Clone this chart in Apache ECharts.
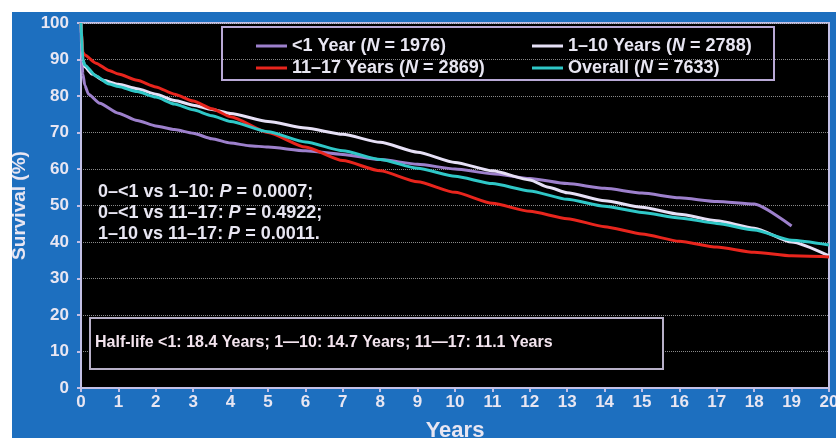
<!DOCTYPE html>
<html>
<head>
<meta charset="utf-8">
<script src="https://cdn.jsdelivr.net/npm/echarts@6/dist/echarts.min.js"></script>
<style>
html,body{margin:0;padding:0;background:#fff;}
#c{width:836px;height:438px;}
</style>
</head>
<body>
<div id="c"></div>
<script>
// ---- data ----
var seriesNames = ['<1 Year', '1–10 Years', '11–17 Years', 'Overall'];
var seriesN = ['1976', '2788', '2869', '7633'];

var lt1Years = [0, 0.02, 0.05, 0.1, 0.2, 0.5, 1, 1.5, 2, 2.5, 3, 3.5, 4, 4.5, 5, 6, 7, 8, 9, 10, 11, 12, 13, 14, 15, 16, 17, 18, 19];
var lt1Surv  = [100, 90, 86, 83, 80.5, 78, 75.3, 73.3, 71.8, 70.8, 69.8, 68.3, 67.1, 66.4, 66, 65, 64, 62.6, 61.3, 60, 58.7, 57.4, 56, 54.7, 53.4, 52.1, 51.1, 50.4, 44.4];

var y1to10Years = [0, 0.05, 0.1, 0.3, 0.6, 1, 1.5, 2, 2.5, 3, 3.5, 4, 5, 6, 7, 8, 9, 10, 11, 12, 12.5, 13, 14, 15, 16, 17, 18, 19, 20];
var y1to10Surv  = [100, 90, 88, 86, 84.3, 83.2, 82, 80.5, 78.8, 77.5, 76.3, 75.2, 73, 71.2, 69.5, 67.3, 64.6, 61.8, 59.5, 57, 55, 53.5, 51.3, 49.5, 47.6, 45.8, 43.8, 40, 36.2];

var y11to17Years = [0, 0.05, 0.1, 0.4, 0.75, 1, 1.5, 2, 2.5, 3, 3.5, 4, 5, 6, 7, 8, 9, 10, 11, 12, 13, 14, 15, 16, 17, 18, 19, 20];
var y11to17Surv  = [100, 92, 91.2, 89, 87, 86, 84.3, 82.5, 80.5, 78.6, 76.5, 74.3, 70, 66, 62.3, 59.5, 56.5, 53.6, 50.6, 48.4, 46.4, 44.2, 42.2, 40.2, 38.6, 37.2, 36.2, 35.9];

var overallYears = [0, 0.05, 0.1, 0.4, 0.75, 1, 1.5, 2, 2.5, 3, 3.5, 4, 5, 6, 7, 8, 9, 10, 11, 12, 13, 14, 15, 16, 17, 18, 19, 20];
var overallSurv  = [100, 90, 88.5, 85.5, 83.3, 82.6, 81.2, 79.7, 77.8, 76.2, 74.6, 73, 70.2, 67.4, 65, 62.6, 60.2, 58, 56, 54, 51.7, 49.8, 48.1, 46.6, 45.1, 43.3, 40.5, 39.2];

var pLines = [
  ['0–<1 vs 1–10: ', 'P', ' = 0.0007;'],
  ['0–<1 vs 11–17: ', 'P', ' = 0.4922;'],
  ['1–10 vs 11–17: ', 'P', ' = 0.0011.']
];
var halfLifeText = 'Half-life <1: 18.4 Years; 1—10: 14.7 Years; 11—17: 11.1 Years';

var colors = ['#9d80cc', '#e6e0f6', '#e8251d', '#2fc7c7'];

function pairs(xs, ys){ return xs.map(function(x,i){ return [x, ys[i]]; }); }
var seriesData = [
  pairs(lt1Years, lt1Surv),
  pairs(y1to10Years, y1to10Surv),
  pairs(y11to17Years, y11to17Surv),
  pairs(overallYears, overallSurv)
];

var FONT = 'Liberation Sans, Arial, sans-serif';
var TXT = '#e8e6f2';

var richLegend = {
  n: {color: TXT, fontSize: 18, fontWeight: 'bold', fontFamily: FONT},
  i: {color: TXT, fontSize: 18, fontWeight: 'bold', fontStyle: 'italic', fontFamily: FONT}
};
function legendFmt(name){
  var idx = seriesNames.indexOf(name);
  return '{n|' + name + ' (}{i|N}{n| = ' + seriesN[idx] + ')}';
}

var chart = echarts.init(document.getElementById('c'), null, {renderer: 'canvas'});

var pText = pLines.map(function(l){
  return '{n|' + l[0] + '}{i|' + l[1] + '}{n|' + l[2] + '}';
}).join('\n');

var option = {
  backgroundColor: '#ffffff',
  animation: false,
  color: colors,
  grid: {left: 81, right: 7, top: 23, bottom: 50, show: true, backgroundColor: '#000000', borderColor: '#c3c0e6', borderWidth: 2, containLabel: false, outerBoundsMode: 'none'},
  xAxis: {
    type: 'value', min: 0, max: 20, interval: 1,
    name: 'Years', nameLocation: 'middle', nameGap: 32,
    nameTextStyle: {color: TXT, fontSize: 22, fontWeight: 'bold', fontFamily: FONT},
    axisLine: {lineStyle: {color: '#c3c0e6', width: 2}},
    axisTick: {show: true, length: 4, lineStyle: {color: '#c3c0e6', width: 2}},
    axisLabel: {color: TXT, fontSize: 17, fontWeight: 'bold', fontFamily: FONT, margin: 6},
    splitLine: {show: false}
  },
  yAxis: {
    type: 'value', min: 0, max: 100, interval: 10,
    name: 'Survival (%)', nameLocation: 'middle', nameGap: 47, nameRotate: 90,
    nameTextStyle: {color: TXT, fontSize: 19, fontWeight: 'bold', fontFamily: FONT},
    axisLine: {show: true, lineStyle: {color: '#c3c0e6', width: 2}},
    axisTick: {show: true, length: 4, lineStyle: {color: '#c3c0e6', width: 2}},
    axisLabel: {color: TXT, fontSize: 17, fontWeight: 'bold', fontFamily: FONT, margin: 12},
    splitLine: {show: true, lineStyle: {color: '#8a8a8a', type: 'dotted', width: 1}}
  },
  legend: [
    {
      data: [seriesNames[0], seriesNames[2]], orient: 'vertical', left: 251, top: 31,
      icon: 'rect', itemWidth: 31, itemHeight: 3, itemGap: 2,
      formatter: legendFmt,
      textStyle: {color: TXT, fontSize: 18, fontWeight: 'bold', fontFamily: FONT, lineHeight: 20, rich: richLegend}
    },
    {
      data: [seriesNames[1], seriesNames[3]], orient: 'vertical', left: 527, top: 31,
      icon: 'rect', itemWidth: 31, itemHeight: 3, itemGap: 2,
      formatter: legendFmt,
      textStyle: {color: TXT, fontSize: 18, fontWeight: 'bold', fontFamily: FONT, lineHeight: 20, rich: richLegend}
    }
  ],
  graphic: [
    {type: 'rect', z: -10, silent: true, shape: {x: 12, y: 12, width: 824, height: 426}, style: {fill: '#1d6fbf'}},
    {type: 'rect', z: 10, silent: true, shape: {x: 222, y: 27, width: 552, height: 53}, style: {fill: 'none', stroke: '#b9a9d6', lineWidth: 2}},
    {type: 'rect', z: 10, silent: true, shape: {x: 90, y: 318, width: 573, height: 51}, style: {fill: '#000', stroke: '#b8b0c8', lineWidth: 2}},
    {type: 'text', z: 11, silent: true, left: 95, top: 335,
      style: {text: halfLifeText, fill: '#f3e4ee', font: 'bold 16px ' + FONT}},
    {type: 'text', z: 11, silent: true, left: 98, top: 182,
      style: {text: pText, fill: TXT, lineHeight: 21,
        rich: {
          n: {fill: TXT, fontSize: 18, fontWeight: 'bold', fontFamily: FONT, lineHeight: 21},
          i: {fill: TXT, fontSize: 18, fontWeight: 'bold', fontStyle: 'italic', fontFamily: FONT, lineHeight: 21}
        }}}
  ],
  series: seriesNames.map(function(name, i){
    return {
      name: name, type: 'line', data: seriesData[i], showSymbol: false, symbol: 'none',
      smooth: 0.2, smoothMonotone: 'x',
      lineStyle: {width: 3, color: colors[i]}, itemStyle: {color: colors[i]}, z: 3 + i
    };
  })
};
chart.setOption(option);
</script>
</body>
</html>
